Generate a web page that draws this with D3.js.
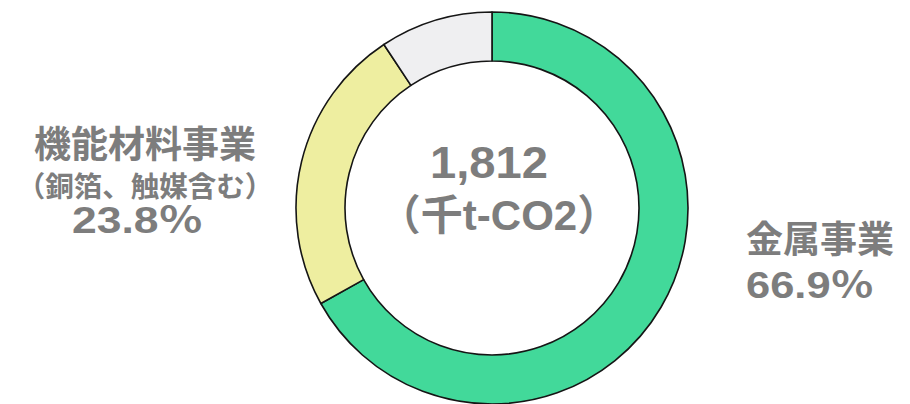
<!DOCTYPE html>
<html>
<head>
<meta charset="utf-8">
<script src="https://cdn.jsdelivr.net/npm/d3@7"></script>
<style>
  html, body { margin: 0; padding: 0; background: #ffffff; }
  svg { display: block; }
  text { font-family: "Liberation Sans", "Noto Sans CJK JP", sans-serif; fill: #7d7d7d; font-weight: 700; }
</style>
</head>
<body>
<svg id="chart" width="910" height="404"></svg>
<script>
// Segment data (clockwise from 12 o'clock)
const categories = ["金属事業", "機能材料事業", "その他"];
const shares = [66.9, 23.8, 9.3];
const colors = ["#42d99a", "#eeeea0", "#efeff1"];

// Centre total and its unit
const totalLabel = "1,812";
const unitLabel = "（千t-CO2）";

// Outside labels
const metalLines = ["金属事業", "66.9％"];
const functionalLines = ["機能材料事業", "（銅箔、触媒含む）", "23.8％"];

const svg = d3.select("#chart");
const cx = 492, cy = 208;
const outerR = 196, innerR = 147;

const pie = d3.pie().sort(null).value(d => d.value).startAngle(0).endAngle(2 * Math.PI);
const arc = d3.arc().innerRadius(innerR).outerRadius(outerR);

const data = categories.map((c, i) => ({ name: c, value: shares[i], color: colors[i] }));

const g = svg.append("g").attr("transform", `translate(${cx},${cy})`);
g.selectAll("path")
  .data(pie(data))
  .join("path")
  .attr("d", arc)
  .attr("fill", d => d.data.color)
  .attr("stroke", "#151515")
  .attr("stroke-width", 1.6)
  .attr("stroke-linejoin", "round");

// Wide numerals: stretch glyphs to a set run length
function wideText(sel, x, y, size, len, str) {
  return sel.append("text")
    .attr("x", x).attr("y", y)
    .attr("font-size", size)
    .attr("textLength", len)
    .attr("lengthAdjust", "spacingAndGlyphs")
    .text(str);
}

// Centre text
wideText(g, 430 - cx, -30, 44, 118, totalLabel);
g.append("text")
  .attr("x", 7).attr("y", 22)
  .attr("text-anchor", "middle")
  .attr("font-size", 42)
  .text(unitLabel);

// Functional materials label (left)
const left = svg.append("g");
left.append("text").attr("x", 145).attr("y", 158).attr("text-anchor", "middle")
  .attr("font-size", 37).text(functionalLines[0]);
left.append("text").attr("x", 145).attr("y", 197).attr("text-anchor", "middle")
  .attr("font-size", 28.5).text(functionalLines[1]);
wideText(left, 72, 233, 36, 131, functionalLines[2]);

// Metals label (right)
const right = svg.append("g");
right.append("text").attr("x", 820).attr("y", 253).attr("text-anchor", "middle")
  .attr("font-size", 37).text(metalLines[0]);
wideText(right, 746, 298, 36, 128, metalLines[1]);
</script>
</body>
</html>
